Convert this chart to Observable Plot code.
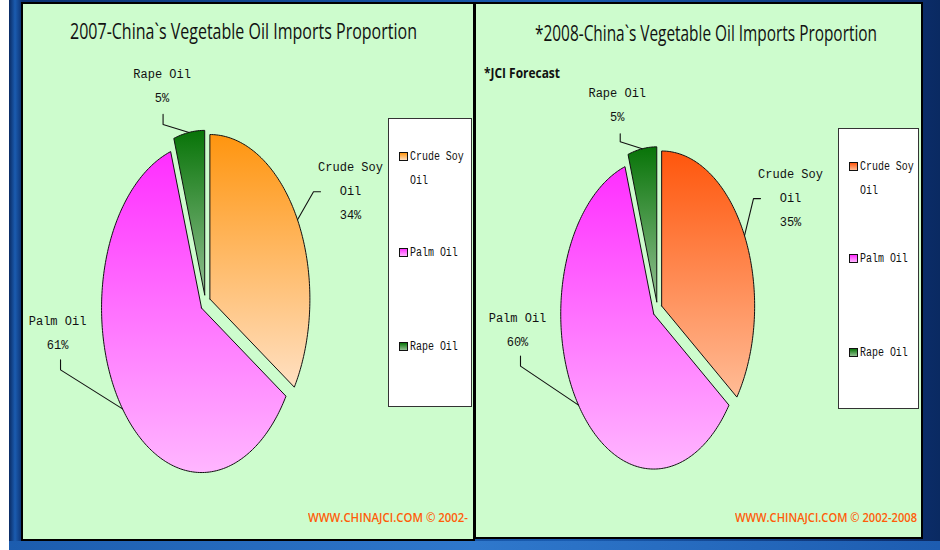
<!DOCTYPE html>
<html><head><meta charset="utf-8">
<script src="https://cdn.jsdelivr.net/npm/d3@7"></script>
<script src="https://cdn.jsdelivr.net/npm/@observablehq/plot@0.6"></script>
<style>
html,body{margin:0;padding:0;background:#fff;width:940px;height:550px;overflow:hidden;}
#frame{position:absolute;left:9px;top:0;width:931px;height:550px;
 background:linear-gradient(to right,#0a2a62 0px,#1b5cb0 6px,#0c3272 13px,#134a96 30%,#1a5cb0 60%,#0c2d6c 97%,#0a2a62 100%);}
#bottom{position:absolute;left:9px;top:541px;width:931px;height:9px;background:linear-gradient(to right,#1c5cae,#2f78cc 50%,#1d5cb0);}
.panel{position:absolute;background:#cdfccd;border:2px solid #000;overflow:hidden;}
.fit{position:absolute;display:inline-block;white-space:nowrap;transform-origin:0 50%;}
.title{font-family:"Open Sans","Noto Sans",sans-serif;font-size:21px;line-height:24px;color:#111;}
.footer{font-family:"Open Sans","Noto Sans",sans-serif;font-size:13px;line-height:16px;color:#ff5c0a;font-weight:600;}
.note{font-family:"Open Sans","Noto Sans",sans-serif;font-size:14px;line-height:16px;font-weight:bold;color:#111;}
.legend{position:absolute;background:#fff;border:1.5px solid #333;}
.item{position:absolute;left:10px;font-family:"Liberation Mono",monospace;font-size:12px;line-height:24px;color:#111;white-space:nowrap;}
.sw{position:absolute;left:0;top:7px;width:7px;height:7px;border:1px solid #111;}
.item span.t{position:absolute;left:11px;top:0;transform:scaleX(0.83);transform-origin:0 50%;}
.plotbox{position:absolute;left:0;top:0;}
</style></head>
<body>
<div id="frame"></div>
<div id="bottom"></div>
<div id="p1" class="panel" style="left:21px;top:2px;width:450px;height:535px;"></div>
<div id="p2" class="panel" style="left:474px;top:2px;width:445px;height:533px;"></div>
<script>
// ---------- data ----------
const categories = ["Crude Soy Oil", "Palm Oil", "Rape Oil"];
const labelNames = ["Crude Soy\nOil", "Palm Oil", "Rape Oil"];
const share2007 = [34, 61, 5];
const share2008 = [35, 60, 5];
const titles = ["2007-China`s Vegetable Oil Imports Proportion", "*2008-China`s Vegetable Oil Imports Proportion"];
const footers = ["WWW.CHINAJCI.COM \u00A9 2002-", "WWW.CHINAJCI.COM \u00A9 2002-2008"];
const note2008 = "*JCI Forecast";

// ---------- styles / layout ----------
const grads2007 = [["#ff950f", "#ffe0c2"], ["#ff2eff", "#ffb6ff"], ["#087408", "#92c092"]];
const grads2008 = [["#ff560c", "#ffbc96"], ["#ff2eff", "#ffb6ff"], ["#087408", "#92c092"]];
// label offsets (px) relative to slice's mid-angle edge point: [label, leaderStart, elbow]
const layout2007 = [
  {label: [53, -32], start: [23, -28], elbow: [16, -28]},
  {label: [-65, -80], start: [-62, -49], elbow: [-62, -39]},
  {label: [-27, -50], start: [-26, -18], elbow: [-26, -8]}
];
const layout2008 = [
  {label: [46, -41], start: [16, -37], elbow: [9, -37]},
  {label: [-61, -79], start: [-58, -49], elbow: [-58, -39]},
  {label: [-25, -47], start: [-22, -15], elbow: [-22, -7]}
];

function fitText(parent, cls, text, left, top, targetW) {
  const s = document.createElement("span");
  s.className = "fit " + cls;
  s.textContent = text;
  s.style.left = left + "px";
  s.style.top = top + "px";
  parent.appendChild(s);
  const w = s.getBoundingClientRect().width;
  if (w > 0) s.style.transform = `scaleX(${targetW / w})`;
  return s;
}

function buildPanel(el, o) {
  const {values, grads, prefix, cx, cy, rx, ry, layout, W, H} = o;
  const explode = 0.05;
  const arcs = d3.pie().sort(null)(values);
  const polys = [], labels = [], leaders = [];
  arcs.forEach((a, i) => {
    const mid = (a.startAngle + a.endAngle) / 2;
    const ox = explode * Math.sin(mid), oy = -explode * Math.cos(mid);
    const pts = [{x: ox, y: oy}];
    const n = Math.max(2, Math.ceil((a.endAngle - a.startAngle) / (Math.PI / 180)));
    for (let k = 0; k <= n; k++) {
      const t = a.startAngle + (a.endAngle - a.startAngle) * k / n;
      pts.push({x: ox + Math.sin(t), y: oy - Math.cos(t)});
    }
    pts.push({x: ox, y: oy});
    polys.push(pts);
    const ex = ox + Math.sin(mid), ey = oy - Math.cos(mid);
    const L = layout[i];
    const toD = (p) => ({x: ex + p[0] / rx, y: ey + p[1] / ry});
    const lp = toD(L.label);
    labels.push({x: lp.x, y: lp.y, text: labelNames[i] + "\n" + values[i] + "%"});
    leaders.push([toD(L.start), toD(L.elbow), {x: ex, y: ey}].map(p => ({...p, k: i})));
  });

  const defsMark = () => {
    const defs = d3.create("svg:defs");
    grads.forEach((g, i) => {
      const lg = defs.append("linearGradient").attr("id", prefix + i)
        .attr("x1", 0).attr("y1", 0).attr("x2", 0).attr("y2", 1);
      lg.append("stop").attr("offset", "0%").attr("stop-color", g[0]);
      lg.append("stop").attr("offset", "100%").attr("stop-color", g[1]);
    });
    return defs.node();
  };

  const marks = [defsMark];
  polys.forEach((pts, i) => {
    marks.push(Plot.line(pts, {x: "x", y: "y", fill: `url(#${prefix}${i})`, stroke: "#111", strokeWidth: 1, curve: "linear"}));
  });
  marks.push(Plot.line(leaders.flat(), {x: "x", y: "y", z: "k", stroke: "#111", strokeWidth: 1.1}));
  marks.push(Plot.text(labels, {x: "x", y: "y", text: "text", lineHeight: 2, fontFamily: "Liberation Mono, monospace", fontSize: 12, fill: "#111", textAnchor: "middle"}));

  const chart = Plot.plot({
    width: W, height: H,
    style: {background: "transparent", overflow: "visible"},
    x: {domain: [-1, 1], range: [cx - rx, cx + rx], axis: null},
    y: {domain: [-1, 1], range: [cy - ry, cy + ry], axis: null},
    marks
  });
  chart.classList.add("plotbox");
  el.appendChild(chart);

  fitText(el, "title", o.title, o.titleBox[0], o.titleBox[1], o.titleBox[2]);
  fitText(el, "footer", o.footer, o.footBox[0], o.footBox[1], o.footBox[2]);
  if (o.note) fitText(el, "note", o.note, o.noteBox[0], o.noteBox[1], o.noteBox[2]);

  const lg = document.createElement("div");
  lg.className = "legend";
  Object.assign(lg.style, {left: o.leg[0] + "px", top: o.leg[1] + "px", width: o.leg[2] + "px", height: o.leg[3] + "px"});
  categories.forEach((c, i) => {
    const it = document.createElement("div");
    it.className = "item";
    it.style.top = o.legItems[i] + "px";
    const sw = document.createElement("span");
    sw.className = "sw";
    sw.style.background = `linear-gradient(to bottom, ${grads[i][0]}, ${grads[i][1]})`;
    const tx = document.createElement("span");
    tx.className = "t";
    tx.innerHTML = labelNames[i].replace("\n", "<br>");
    it.appendChild(sw); it.appendChild(tx);
    lg.appendChild(it);
  });
  el.appendChild(lg);
}

buildPanel(document.getElementById("p1"), {
  values: share2007, grads: grads2007, prefix: "g07_", cx: 182, cy: 298.5, rx: 100, ry: 164.5,
  layout: layout2007, W: 450, H: 535,
  title: titles[0], titleBox: [47, 15, 347],
  footer: footers[0], footBox: [285, 505, 160],
  leg: [365, 114, 82, 287], legItems: [26, 122, 216]
});
buildPanel(document.getElementById("p2"), {
  values: share2008, grads: grads2008, prefix: "g08_", cx: 181, cy: 305, rx: 93, ry: 155,
  layout: layout2008, W: 445, H: 533,
  title: titles[1], titleBox: [59, 17, 342],
  footer: footers[1], footBox: [259, 505, 182],
  leg: [362, 124, 79, 279], legItems: [26, 118, 212],
  note: note2008, noteBox: [8, 61, 76]
});
</script>
</body></html>
